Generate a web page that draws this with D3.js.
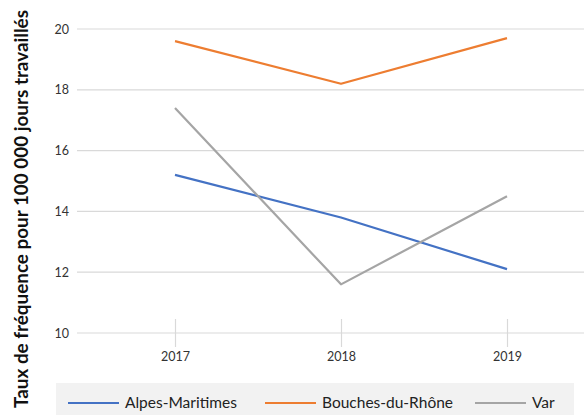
<!DOCTYPE html>
<html>
<head>
<meta charset="utf-8">
<script src="https://cdn.jsdelivr.net/npm/d3@7"></script>
<style>
  html, body { margin: 0; padding: 0; background: #fff; }
  svg { display: block; font-family: Lato, "Open Sans", sans-serif; }
</style>
</head>
<body>
<svg id="chart" width="584" height="415"></svg>
<script>
// Years on the x axis
const years = ["2017", "2018", "2019"];
// Frequency rate per department
const alpesMaritimes = [15.2, 13.8, 12.1];
const bouchesDuRhone = [19.6, 18.2, 19.7];
const varDept = [17.4, 11.6, 14.5];
const seriesNames = ["Alpes-Maritimes", "Bouches-du-Rhône", "Var"];
const seriesColors = ["#4472C4", "#ED7D31", "#A5A5A5"];
const yTicks = [10, 12, 14, 16, 18, 20];
const yTitle = "Taux de fréquence pour 100 000 jours travaillés";

const series = [alpesMaritimes, bouchesDuRhone, varDept];

const svg = d3.select("#chart");
const plot = { left: 77, right: 584, top: 29, bottom: 333 };

const x = d3.scalePoint().domain(years).range([175, 507]);
const y = d3.scaleLinear().domain([10, 20]).range([plot.bottom, plot.top]);

// Horizontal gridlines
svg.append("g").selectAll("line").data(yTicks).join("line")
  .attr("x1", plot.left).attr("x2", plot.right)
  .attr("y1", d => y(d)).attr("y2", d => y(d))
  .attr("stroke", "#d9d9d9").attr("stroke-width", 1.2);

// Y tick labels
const yAxis = d3.axisLeft(y).tickValues(yTicks).tickSize(0).tickPadding(0);
const gy = svg.append("g").attr("transform", "translate(69,0)").call(yAxis);
gy.select(".domain").remove();
gy.selectAll("text").attr("font-size", 12.5).attr("fill", "#333")
  .attr("font-family", "Lato, sans-serif");

// X axis: short vertical ticks crossing the baseline
const xAxis = d3.axisBottom(x).tickSize(0).tickPadding(0);
const gx = svg.append("g").attr("transform", `translate(0,${plot.bottom})`).call(xAxis);
gx.select(".domain").remove();
gx.selectAll(".tick line").remove();
gx.selectAll(".tick").append("line")
  .attr("y1", -14).attr("y2", 14).attr("stroke", "#d9d9d9").attr("stroke-width", 1.2);
gx.selectAll(".tick text").attr("y", 28).attr("dy", 0)
  .attr("font-size", 12.5).attr("fill", "#333").attr("font-family", "Lato, sans-serif");

// Lines
const line = d3.line().x((d, i) => x(years[i])).y(d => y(d));
svg.append("g").selectAll("path").data(series).join("path")
  .attr("d", d => line(d))
  .attr("fill", "none")
  .attr("stroke", (d, i) => seriesColors[i])
  .attr("stroke-width", 2.2)
  .attr("stroke-linejoin", "round");

// Y axis title
svg.append("text")
  .attr("transform", `translate(28,${(10 + 408) / 2}) rotate(-90)`)
  .attr("text-anchor", "middle")
  .attr("font-size", 18).attr("font-weight", "bold").attr("fill", "#111")
  .attr("textLength", 398).attr("lengthAdjust", "spacingAndGlyphs")
  .text(yTitle);

// Legend
const legend = svg.append("g");
legend.append("rect").attr("x", 56).attr("y", 383).attr("width", 518).attr("height", 32)
  .attr("fill", "#f2f2f2");
const legendX = [68, 265, 475];
const items = legend.selectAll("g.item").data(seriesNames).join("g")
  .attr("class", "item")
  .attr("transform", (d, i) => `translate(${legendX[i]},403)`);
items.append("line").attr("x1", 0).attr("x2", 51).attr("y1", 0).attr("y2", 0)
  .attr("stroke", (d, i) => seriesColors[i]).attr("stroke-width", 2.2);
items.append("text").attr("x", 57).attr("y", 0).attr("dy", "0.35em")
  .attr("font-size", 15.5).attr("fill", "#222").text(d => d);
</script>
</body>
</html>
